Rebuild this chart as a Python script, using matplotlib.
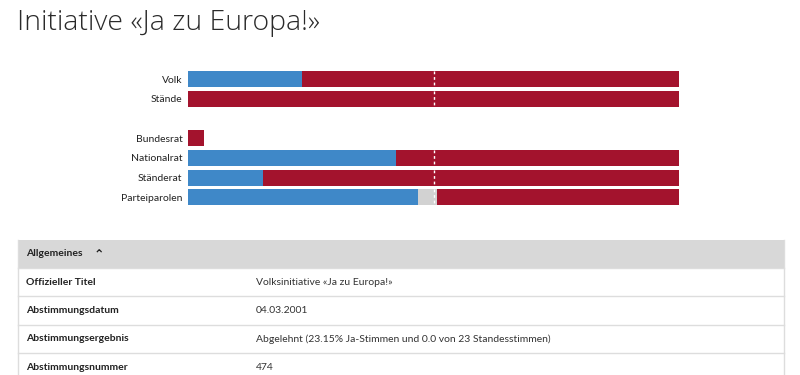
import matplotlib.pyplot as plt
from matplotlib.patches import Rectangle

# Chart data (shares of 1.0)
categories = ["Volk", "Stände", "Bundesrat", "Nationalrat", "Ständerat", "Parteiparolen"]
positions = [0, 1, 3, 4, 5, 6]
yes_share = [0.2315, 0.0, 0.0, 0.424, 0.153, 0.468]
neutral_share = [0.0, 0.0, 0.0, 0.0, 0.0, 0.039]
no_share = [0.7685, 1.0, 0.033, 0.576, 0.847, 0.493]

# Table content
table_header = "Allgemeines"
row_labels = ["Offizieller Titel", "Abstimmungsdatum", "Abstimmungsergebnis", "Abstimmungsnummer"]
row_values = ["Volksinitiative «Ja zu Europa!»", "04.03.2001",
              "Abgelehnt (23.15% Ja-Stimmen und 0.0 von 23 Standesstimmen)", "474"]

BLUE = "#3f88c8"
RED = "#a3132d"
GREY = "#d2d2d2"
FONT = ["Lato", "DejaVu Sans"]


def main():
    fig = plt.figure(figsize=(8, 3.75), dpi=100)

    # background axes in pixel coordinates for title and table
    bg = fig.add_axes([0, 0, 1, 1])
    bg.set_xlim(0, 800)
    bg.set_ylim(375, 0)
    bg.axis("off")

    bg.text(17, 23, "Initiative «Ja zu Europa!»", fontsize=20.5,
            family=["Open Sans", "DejaVu Sans"], fontweight="light",
            color="#2a2a2a", va="center", ha="left")

    # table
    bg.add_patch(Rectangle((18, 240), 766, 28, facecolor="#d8d8d8", edgecolor="none"))
    bg.text(26, 254, table_header, fontsize=7.5, family=FONT,
            fontweight="bold", va="center", color="#222222")
    bg.text(94, 256, "⌃", fontsize=9, family="DejaVu Sans",
            fontweight="bold", va="center", color="#222222")
    row_h = 28.3
    top = 268
    for i, (lab, val) in enumerate(zip(row_labels, row_values)):
        y0 = top + i * row_h
        bg.plot([18, 784], [y0, y0], color="#dddddd", lw=1)
        bg.text(26, y0 + row_h / 2, lab, fontsize=7.5, family=FONT,
                fontweight="bold", va="center", color="#222222")
        bg.text(256, y0 + row_h / 2, val, fontsize=7.5, family=FONT,
                va="center", color="#333333")
    bg.plot([18, 18], [240, 375], color="#dddddd", lw=1)
    bg.plot([784, 784], [240, 375], color="#dddddd", lw=1)

    # bar chart
    ax = fig.add_axes([188 / 800, 1 - 207.2 / 375, 491 / 800, 138 / 375])
    h = 0.82
    ax.barh(positions, yes_share, height=h, color=BLUE)
    left2 = [y for y in yes_share]
    ax.barh(positions, neutral_share, left=left2, height=h, color=GREY)
    left3 = [y + n for y, n in zip(yes_share, neutral_share)]
    ax.barh(positions, no_share, left=left3, height=h, color=RED)

    # dashed 50% mark inside full bars
    for p, y, n, r in zip(positions, yes_share, neutral_share, no_share):
        if y + n + r > 0.5:
            ax.vlines(0.5, p - h / 2, p + h / 2, colors="white",
                      linestyles=(0, (2, 2)), lw=1)

    ax.set_xlim(0, 1)
    ax.set_ylim(6.5, -0.5)
    ax.set_yticks(positions)
    ax.set_yticklabels(categories, fontsize=7.5, family=FONT, color="#222222")
    ax.tick_params(axis="y", length=0, pad=4)
    ax.set_xticks([])
    for s in ax.spines.values():
        s.set_visible(False)

    fig.savefig("out.png", dpi=100)


if __name__ == "__main__":
    main()
